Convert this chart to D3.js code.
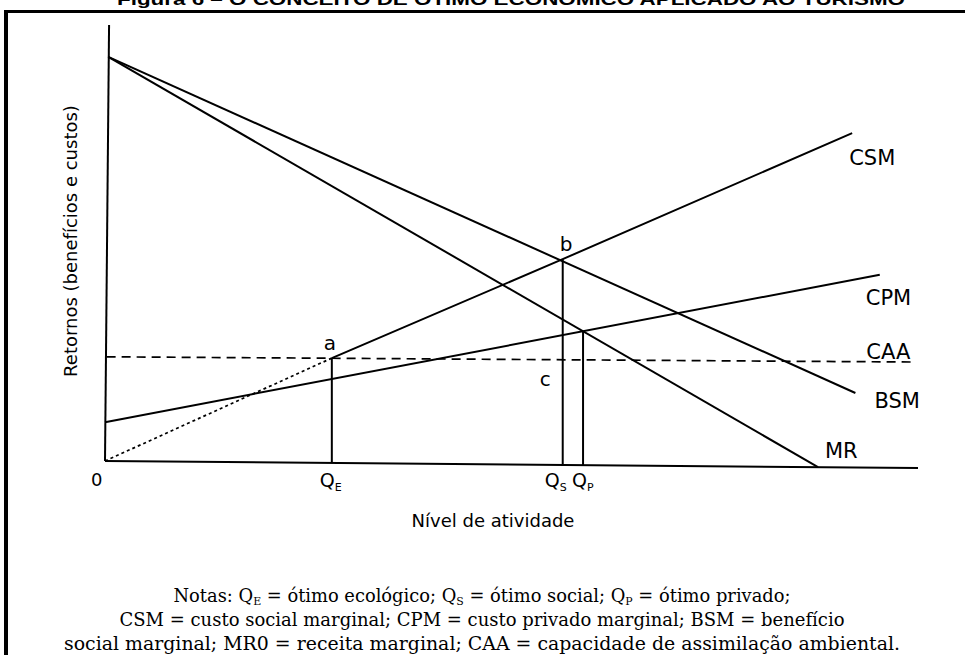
<!DOCTYPE html>
<html>
<head>
<meta charset="utf-8">
<script src="https://cdn.jsdelivr.net/npm/d3@7"></script>
<style>
  html, body { margin: 0; padding: 0; background: #fff; }
  svg { display: block; }
</style>
</head>
<body>
<svg id="chart" width="965" height="655"></svg>
<script>
// ---- data (abstract units, x: activity level 0..100, y: returns 0..100) ----
const titleText = "Figura 6 – O CONCEITO DE ÓTIMO ECONÔMICO APLICADO AO TURISMO";
const xAxisPts = [[0, 0], [100, -1.6]];
const yAxisPts = [[0, 0], [0.5, 100]];
const mrPts  = [[0.4, 92.7], [87.7, -1.4]];
const bsmPts = [[0.4, 92.7], [92.3, 15.6]];
const csmDotted = [[0, 0], [27.9, 23.6]];
const csmSolid  = [[27.9, 23.6], [56.3, 46.3], [91.9, 75.2]];
const cpmPts = [[0, 8.9], [95.3, 42.7]];
const caaPts = [[0.2, 23.9], [99.3, 22.7]];
const optima = [
  { name: "E", x: 27.9, top: 23.6 },
  { name: "S", x: 56.3, top: 46.3 },
  { name: "P", x: 58.8, top: 29.8 }
];
const curveLabels = ["CSM", "CPM", "CAA", "BSM", "MR"];
const pointLabels = ["a", "b", "c"];
const xTitle = "Nível de atividade";
const yTitle = "Retornos (benefícios e custos)";
const notes = [
  [["Notas: Q", ""], ["E", "sub"], [" = ótimo ecológico; Q", ""], ["S", "sub"], [" = ótimo social; Q", ""], ["P", "sub"], [" = ótimo privado;", ""]],
  [["CSM = custo social marginal; CPM = custo privado marginal; BSM = benefício", ""]],
  [["social marginal; MR0 = receita marginal; CAA = capacidade de assimilação ambiental.", ""]]
];

// ---- drawing ----
const svg = d3.select("#chart");
const x = d3.scaleLinear().domain([0, 100]).range([105, 918]);
const y = d3.scaleLinear().domain([0, 100]).range([461, 25]);
const line = d3.line().x(d => x(d[0])).y(d => y(d[1]));
const axisYAt = v => xAxisPts[0][1] + (xAxisPts[1][1] - xAxisPts[0][1]) * (v - xAxisPts[0][0]) / (xAxisPts[1][0] - xAxisPts[0][0]);

// title (cut at top) and frame
svg.append("text").attr("x", 117).attr("y", 5)
  .attr("textLength", 788).attr("lengthAdjust", "spacingAndGlyphs")
  .style("font-family", "'Liberation Sans', Arial, sans-serif")
  .style("font-weight", "bold").style("font-size", "17px").text(titleText);
svg.append("line").attr("x1", 4).attr("x2", 965).attr("y1", 11.5).attr("y2", 11.5)
  .attr("stroke", "#000").attr("stroke-width", 3);
svg.append("line").attr("x1", 6).attr("x2", 6).attr("y1", 10).attr("y2", 655)
  .attr("stroke", "#000").attr("stroke-width", 4);

const g = svg.append("g").attr("fill", "none").attr("stroke", "#000").attr("stroke-width", 2);
g.append("path").attr("d", line(xAxisPts));
g.append("path").attr("d", line(yAxisPts));
g.append("path").attr("d", line(mrPts));
g.append("path").attr("d", line(bsmPts));
g.append("path").attr("d", line(csmSolid));
g.append("path").attr("d", line(csmDotted)).attr("stroke-dasharray", "3,3").attr("stroke-width", 1.7);
g.append("path").attr("d", line(cpmPts));
g.append("path").attr("d", line(caaPts)).attr("stroke-dasharray", "9,6").attr("stroke-width", 1.7);
optima.forEach(o => {
  g.append("path").attr("d", line([[o.x, o.top], [o.x, axisYAt(o.x)]]));
});

// curve labels
const lblFont = "'DejaVu Sans', 'Open Sans', sans-serif";
const tg = svg.append("g").style("font-family", lblFont).style("font-size", "21px").attr("fill", "#000");
const lblPos = {
  CSM: [x(csmSolid[2][0]) - 3, y(csmSolid[2][1]) + 32],
  CPM: [x(cpmPts[1][0]) - 14, y(cpmPts[1][1]) + 30],
  CAA: [x(caaPts[1][0]) - 46, y(caaPts[1][1]) - 3],
  BSM: [x(bsmPts[1][0]) + 19, y(bsmPts[1][1]) + 15],
  MR:  [x(mrPts[1][0]) + 7, y(mrPts[1][1]) - 9]
};
curveLabels.forEach(l => tg.append("text").attr("x", lblPos[l][0]).attr("y", lblPos[l][1]).text(l));
const ptPos = {
  a: [x(optima[0].x) - 8, y(optima[0].top) - 8],
  b: [x(optima[1].x) - 3, y(optima[1].top) - 8],
  c: [x(optima[1].x) - 23, y(optima[0].top) + 28]
};
pointLabels.forEach(l => tg.append("text").attr("x", ptPos[l][0]).attr("y", ptPos[l][1]).style("font-size", "20px").text(l));

// axis tick labels
tg.append("text").attr("x", x(0) - 14).attr("y", 486).style("font-size", "18px").text("0");
const qOff = { E: -12, S: -18, P: -11 };
optima.forEach(o => {
  const t = tg.append("text").attr("x", x(o.x) + qOff[o.name]).attr("y", 487).style("font-size", "19px");
  t.append("tspan").text("Q");
  t.append("tspan").attr("dy", 4).style("font-size", "11px").text(o.name);
});
// axis titles
tg.append("text").attr("x", 493).attr("y", 527).attr("text-anchor", "middle")
  .style("font-size", "18px").text(xTitle);
tg.append("text").attr("transform", "translate(77,241) rotate(-90)").attr("text-anchor", "middle")
  .style("font-size", "18px").text(yTitle);

// notes
const ng = svg.append("g").style("font-family", "'DejaVu Serif', 'Liberation Serif', serif")
  .style("font-size", "18px").attr("fill", "#000");
const noteY = [602, 626, 650];
const noteW = [617, 725, 836];
notes.forEach((parts, i) => {
  const t = ng.append("text").attr("x", 482).attr("y", noteY[i]).attr("text-anchor", "middle")
    .attr("textLength", noteW[i]).attr("lengthAdjust", "spacingAndGlyphs");
  parts.forEach(([s, kind]) => {
    if (kind === "sub") {
      t.append("tspan").attr("dy", 3).style("font-size", "11px").text(s);
    } else {
      const sp = t.append("tspan").text(s);
      if (t.selectAll("tspan").size() > 1) sp.attr("dy", -3);
    }
  });
});
</script>
</body>
</html>
